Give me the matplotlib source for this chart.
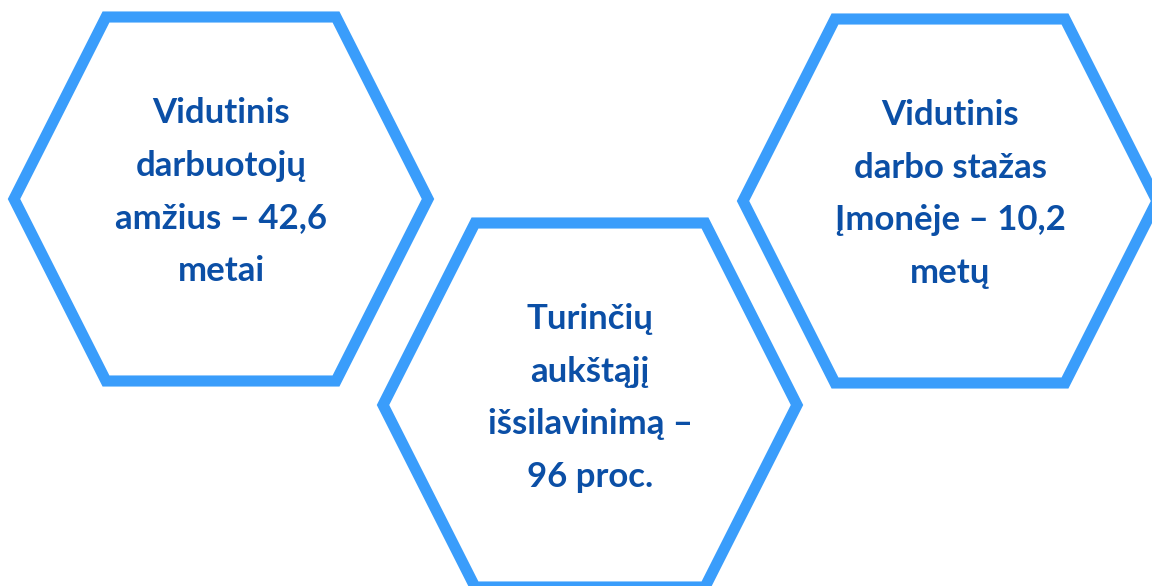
import matplotlib
matplotlib.use("Agg")
import matplotlib.pyplot as plt
from matplotlib.patches import Polygon

# texto de cada hexagono
labels = [
    "Vidutinis\ndarbuotojų\namžius – 42,6\nmetai",
    "Turinčių\naukštąjį\nišsilavinimą –\n96 proc.",
    "Vidutinis\ndarbo stažas\nĮmonėje – 10,2\nmetų",
]

# centros (px) y forma de los hexagonos
centers_x = [221, 590, 950]
centers_y = [199, 405, 201]
half_w = 207
top_half_w = 115
half_h = 182

edge_color = "#3a9dfb"
text_color = "#0b4fa6"

fig = plt.figure(figsize=(11.52, 5.86), dpi=100)
ax = fig.add_axes([0, 0, 1, 1])
ax.set_xlim(0, 1152)
ax.set_ylim(586, 0)
ax.axis("off")

for cx, cy, label in zip(centers_x, centers_y, labels):
    pts = [
        (cx - half_w, cy),
        (cx - top_half_w, cy - half_h),
        (cx + top_half_w, cy - half_h),
        (cx + half_w, cy),
        (cx + top_half_w, cy + half_h),
        (cx - top_half_w, cy + half_h),
    ]
    hexagon = Polygon(pts, closed=True, facecolor="white", edgecolor=edge_color,
                      lw=8, joinstyle="miter")
    ax.add_patch(hexagon)
    ax.text(cx, cy - 7, label, ha="center", va="center", color=text_color,
            fontsize=25, fontweight="bold", family="Lato", linespacing=1.8)

fig.savefig("out.png", dpi=100)
